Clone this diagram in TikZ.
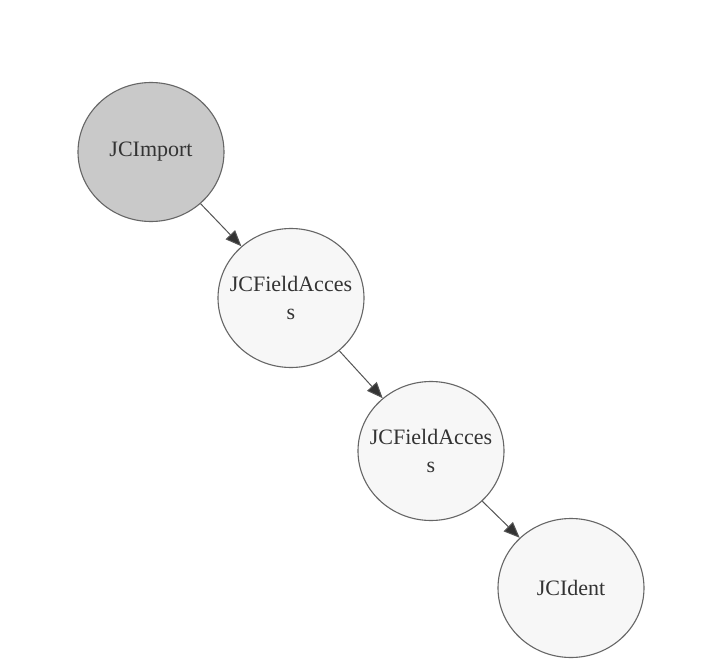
\documentclass[tikz,border=0pt]{standalone}
\usepackage{fontspec}
\setmainfont{Liberation Serif}
\usetikzlibrary{arrows.meta,shapes.geometric}
\definecolor{edgecol}{HTML}{555555}
\definecolor{circcol}{HTML}{666666}
\definecolor{txtcol}{HTML}{333333}
\definecolor{rootfill}{HTML}{C9C9C9}
\definecolor{nodefill}{HTML}{F7F7F7}
\tikzset{
  treenode/.style={ellipse, draw=circcol, line width=1.1pt, fill=nodefill,
    minimum width=146pt, minimum height=139pt, inner sep=-14pt,
    text=txtcol, align=center,
    font=\rmfamily\fontsize{22pt}{28pt}\selectfont},
  rootnode/.style={treenode, fill=rootfill},
  edge/.style={draw=edgecol, line width=1pt,
    -{Triangle[length=16pt,width=13pt,fill=txtcol]}}
}
\begin{document}
\begin{tikzpicture}[x=1pt,y=-1pt]
\useasboundingbox[fill=white] (0,0) rectangle (726,666);
\node[rootnode] (imp) at (151,152) {JCImport};
\node[treenode] (fa1) at (291,298) {JCFieldAcces\\s};
\node[treenode] (fa2) at (431,451) {JCFieldAcces\\s};
\node[treenode] (id) at (571,588) {JCIdent};
\draw[edge] (imp) -- (fa1);
\draw[edge] (fa1) -- (fa2);
\draw[edge] (fa2) -- (id);
\end{tikzpicture}
\end{document}
